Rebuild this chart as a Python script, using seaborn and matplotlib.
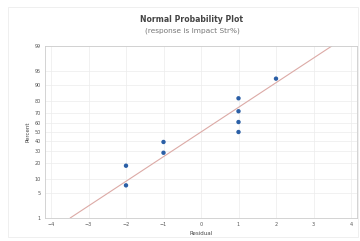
import numpy as np
import matplotlib
matplotlib.use("Agg")
import matplotlib.pyplot as plt
import seaborn as sns
from statistics import NormalDist

# residuals (sorted) and Minitab plotting positions
residuals = [-2, -2, -1, -1, 1, 1, 1, 1, 2]
percent_ticks = [1, 5, 10, 20, 30, 40, 50, 60, 70, 80, 90, 95, 99]
x_ticks = [-4, -3, -2, -1, 0, 1, 2, 3, 4]

nd = NormalDist()


def _ppf1(p):
    if np.isnan(p):
        return np.nan
    return nd.inv_cdf(min(max(p / 100.0, 1e-9), 1 - 1e-9))


def _cdf1(z):
    if np.isnan(z):
        return np.nan
    return nd.cdf(z) * 100.0


_ppf = np.vectorize(_ppf1, otypes=[float])
_cdf = np.vectorize(_cdf1, otypes=[float])


def forward(p):
    return _ppf(np.asarray(p, dtype=float))


def inverse(z):
    return _cdf(np.asarray(z, dtype=float))


n = len(residuals)
ranks = np.arange(1, n + 1)
percent = (ranks - 0.3) / (n + 0.4) * 100

mu = np.mean(residuals)
sd = np.std(residuals, ddof=1)
line_p = np.array([1, 99])
line_x = mu + sd * np.array([nd.inv_cdf(p / 100) for p in line_p])

sns.set_style("white")
plt.rcParams["font.family"] = ["DejaVu Sans"]

fig = plt.figure(figsize=(3.6, 2.41), dpi=100)
ax = fig.add_axes([45 / 360, 23 / 241, 312 / 360, 172 / 241])

# faint outer frame
fig.patches.append(plt.Rectangle((8 / 360, 4 / 241), 350 / 360, 230 / 241,
                                 transform=fig.transFigure, fill=False,
                                 edgecolor="#ececec", linewidth=0.6))

ax.set_yscale("function", functions=(forward, inverse))
ax.set_ylim(1, 99)
ax.set_xlim(-4.16, 4.16)

ax.plot(line_x, line_p, color="#dcaaa6", linewidth=0.8, zorder=2)
sns.scatterplot(x=residuals, y=percent, ax=ax, color="#2b5fa6", s=10,
                edgecolor="none", zorder=3)

ax.set_yticks(percent_ticks)
ax.set_yticklabels([str(p) for p in percent_ticks])
ax.set_xticks(x_ticks)
ax.grid(True, color="#ececec", linewidth=0.5)
ax.tick_params(labelsize=3.5, colors="#555555", length=1.5, width=0.4, pad=1.5)
for s in ax.spines.values():
    s.set_color("#cccccc")
    s.set_linewidth(0.6)

ax.set_xlabel("Residual", fontsize=4, color="#444444", labelpad=3)
ax.set_ylabel("Percent", fontsize=4, color="#444444", labelpad=3)

fig.text(192 / 360, 1 - 20 / 241, "Normal Probability Plot", ha="center", va="center",
         fontsize=5.6, fontweight="bold", color="#444444")
fig.text(192 / 360, 1 - 31 / 241, "(response is Impact Str%)", ha="center", va="center",
         fontsize=5.3, color="#777777")

fig.savefig("out.png", dpi=100)
